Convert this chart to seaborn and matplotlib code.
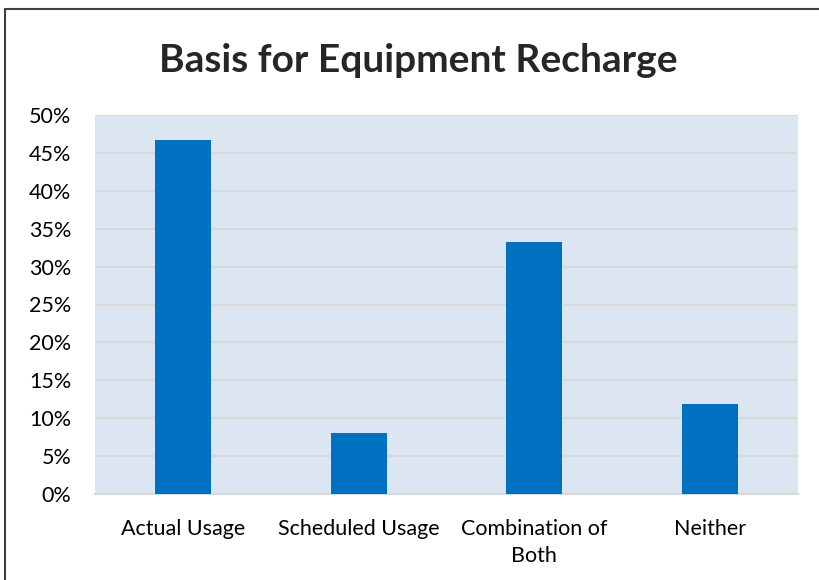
import matplotlib
matplotlib.use("Agg")
import matplotlib.pyplot as plt
import seaborn as sns
import pandas as pd
from matplotlib.lines import Line2D
from matplotlib.ticker import PercentFormatter

# data
categories = ["Actual Usage", "Scheduled Usage", "Combination of\nBoth", "Neither"]
shares = [46.7, 8.1, 33.2, 11.9]
yticks = [0, 5, 10, 15, 20, 25, 30, 35, 40, 45, 50]

df = pd.DataFrame({"basis": categories, "share": shares})

sns.set_style("white")
plt.rcParams["font.family"] = ["Lato", "DejaVu Sans"]

fig = plt.figure(figsize=(8.2, 5.8), dpi=100)
fig.patch.set_facecolor("white")
fig.patch.set_linewidth(0)
ax = fig.add_axes([95 / 820, 1 - 494 / 580, 703 / 820, 379 / 580])
ax.set_facecolor("#DCE6F2")

sns.barplot(data=df, x="basis", y="share", color="#0070C0", width=0.32,
            saturation=1, linewidth=0, ax=ax, zorder=3)

ax.set_ylim(0, 50)
ax.set_yticks(yticks)
ax.yaxis.set_major_formatter(PercentFormatter(decimals=0))
ax.grid(axis="y", color="#D9D9D9", linewidth=1.5, zorder=0)
ax.set_axisbelow(True)
for side in ["left", "right", "top"]:
    ax.spines[side].set_visible(False)
ax.spines["bottom"].set_color("#D9D9D9")
ax.spines["bottom"].set_linewidth(1.5)
ax.tick_params(axis="y", length=0, pad=17, labelsize=15.5, labelcolor="#000000")
ax.tick_params(axis="x", length=0, pad=18, labelsize=15.5, labelcolor="#000000")
for lbl in ax.get_xticklabels():
    lbl.set_linespacing(1.45)
ax.set_xlabel("")
ax.set_ylabel("")

fig.text(418 / 820, 1 - 60 / 580, "Basis for Equipment Recharge",
         ha="center", va="center", fontsize=28, fontweight="bold")

# chart border: only the left and top edges show in the crop
bx, by = 5 / 820, 1 - 9 / 580
fig.add_artist(Line2D([bx, bx], [0, by], transform=fig.transFigure,
                      color="#404040", linewidth=1.5))
fig.add_artist(Line2D([bx, 1], [by, by], transform=fig.transFigure,
                      color="#404040", linewidth=1.5))

fig.savefig("out.png", dpi=100, facecolor="white", edgecolor="white")
